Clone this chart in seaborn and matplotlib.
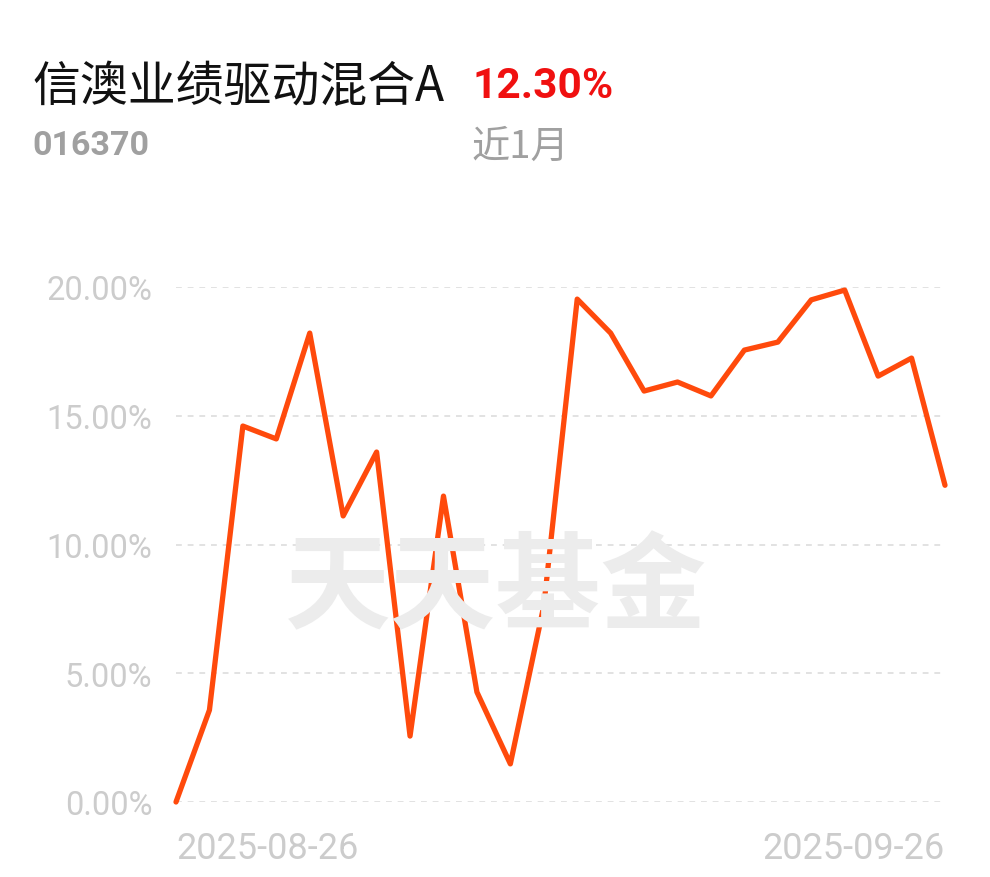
import numpy as np
import pandas as pd
import matplotlib
matplotlib.use("Agg")
import matplotlib.pyplot as plt
import seaborn as sns

# trading days of the last month and cumulative return (%)
dates = ["2025-08-26", "2025-08-27", "2025-08-28", "2025-08-29",
         "2025-09-01", "2025-09-02", "2025-09-03", "2025-09-04", "2025-09-05",
         "2025-09-08", "2025-09-09", "2025-09-10", "2025-09-11", "2025-09-12",
         "2025-09-15", "2025-09-16", "2025-09-17", "2025-09-18", "2025-09-19",
         "2025-09-22", "2025-09-23", "2025-09-24", "2025-09-25", "2025-09-26"]
returns = [0.00, 3.57, 14.60, 14.10, 18.21, 11.11, 13.59, 2.56, 11.88,
           4.27, 1.48, 7.61, 19.53, 18.21, 15.96, 16.31, 15.77, 17.55,
           17.86, 19.50, 19.88, 16.54, 17.24, 12.30]
y_ticks = [0, 5, 10, 15, 20]

fund_name = "信澳业绩驱动混合A"
fund_code = "016370"
period = "近1月"

df = pd.DataFrame({"idx": np.arange(len(dates)), "date": dates, "ret": returns})

sns.set_style("white")
plt.rcParams["font.family"] = ["Roboto", "Noto Sans CJK SC", "DejaVu Sans"]

fig = plt.figure(figsize=(9.9, 8.78), dpi=100)
ax = fig.add_axes([176 / 990, 75 / 878, (945 - 176) / 990, (803 - 288) / 878])

# watermark
fig.text(496 / 990, 1 - 590 / 878, "天天基金", family=["Noto Sans CJK SC"],
         fontsize=76, fontweight="bold", color="#ececec",
         ha="center", va="center", zorder=0)
ax.set_facecolor("none")

sns.lineplot(data=df, x="idx", y="ret", ax=ax, color="#ff4a0c",
             linewidth=3.8, clip_on=False, zorder=3)

ax.set_xlim(0, len(dates) - 1)
ax.set_ylim(0, 20)
ax.set_yticks(y_ticks)
ax.set_yticklabels([f"{v:.2f}%" for v in y_ticks])
for v in y_ticks:
    ax.axhline(v, color="#e2e2e2", linestyle=(0, (3, 3)), linewidth=1.4, zorder=1)

ax.set_xticks([0, len(dates) - 1])
ax.set_xticklabels([dates[0], dates[-1]])
xl = ax.get_xticklabels()
xl[0].set_ha("left")
xl[1].set_ha("right")

ax.tick_params(axis="y", length=0, pad=17, labelsize=23.5, labelcolor="#cccccc")
ax.tick_params(axis="x", length=0, pad=20, labelsize=26, labelcolor="#cccccc")
ax.set_xlabel("")
ax.set_ylabel("")
sns.despine(ax=ax, left=True, bottom=True)

# header
fig.text(32 / 990, 1 - 87 / 878, fund_name, family=["Noto Sans CJK SC", "DejaVu Sans"],
         fontsize=34.5, color="#111111", va="center", ha="left")
fig.text(472 / 990, 1 - 87 / 878, f"{returns[-1]:.2f}%", family=["Roboto"],
         fontsize=30.5, fontweight="bold", color="#f01010", va="center", ha="left")
fig.text(32 / 990, 1 - 146 / 878, fund_code, family=["Roboto"],
         fontsize=24.5, fontweight="bold", color="#a0a0a0", va="center", ha="left")
fig.text(472 / 990, 1 - 147 / 878, period, family=["Noto Sans CJK SC"],
         fontsize=27.5, color="#a0a0a0", va="center", ha="left")

fig.savefig("out.png", dpi=100, facecolor="white")
